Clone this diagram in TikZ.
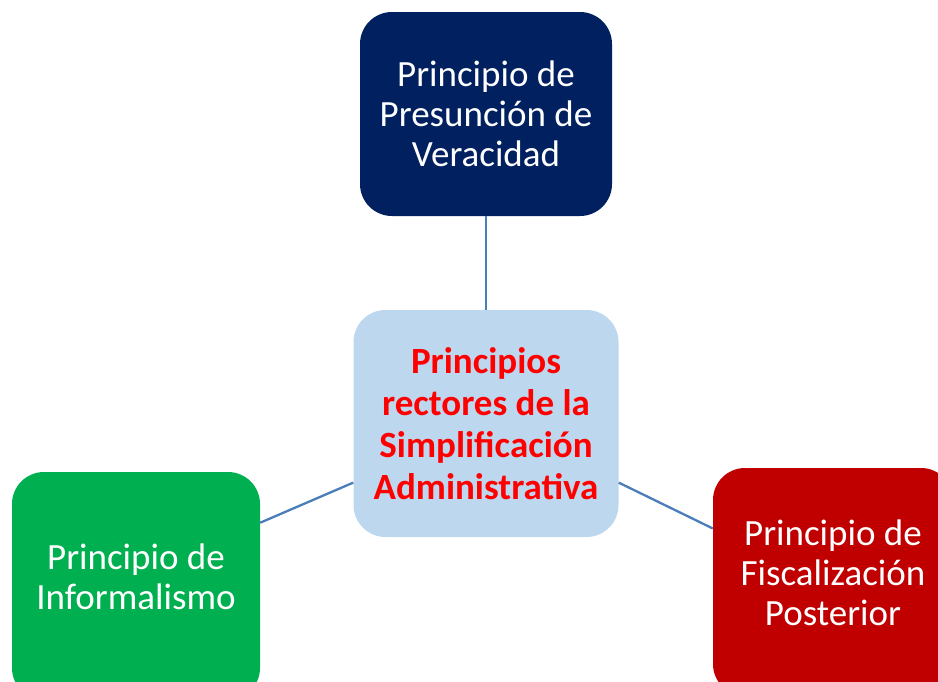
\documentclass[tikz,border=0pt]{standalone}
\usepackage{fontspec}
\setmainfont{Carlito}
\usepackage{xcolor}
\definecolor{navy}{RGB}{0, 32, 96}
\definecolor{paleblue}{RGB}{189, 215, 238}
\definecolor{leafgreen}{RGB}{0, 176, 80}
\definecolor{darkred}{RGB}{192, 0, 0}
\definecolor{linkblue}{RGB}{74, 126, 187}
\tikzset{principle/.style={rectangle,rounded corners=32pt,align=center,text=white,
    font=\fontsize{37}{40}\selectfont,inner sep=0pt},
  link/.style={draw=linkblue,line width=2.3pt}}

\begin{document}
\begin{tikzpicture}[x=1pt,y=-1pt]
\useasboundingbox (0,0) rectangle (938,681);
\node[principle,fill=navy,minimum width=252pt,minimum height=204pt] (veracidad) at (486,114) {Principio de\\Presunción de\\Veracidad};
\node[principle,fill=paleblue,text=red,minimum width=265pt,minimum height=227pt,
  font=\fontsize{37}{42}\selectfont\bfseries] (rectores) at (486,423.5) {Principios\\rectores de la\\Simplificación\\Administrativa};
\node[principle,fill=leafgreen,minimum width=248pt,minimum height=228pt,text depth=18pt] (informalismo) at (136,586) {Principio de\\Informalismo};
\node[principle,fill=darkred,minimum width=240pt,minimum height=228pt,text depth=18pt] (fiscalizacion) at (833,582) {Principio de\\Fiscalización\\Posterior};
\draw[link] (veracidad.south) -- (rectores.north);
\draw[link] (informalismo.27) -- (rectores.204);
\draw[link] (rectores.-24) -- (fiscalizacion.156);
\end{tikzpicture}
\end{document}
